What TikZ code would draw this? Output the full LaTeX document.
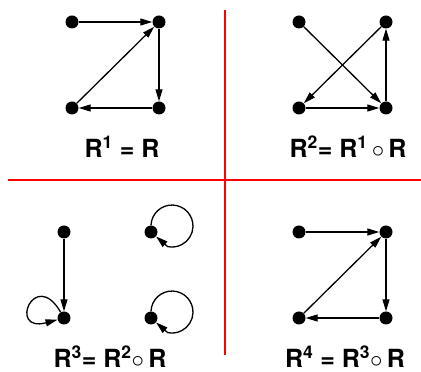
\documentclass[tikz,border=0pt]{standalone}
\usepackage{fontspec}
\setmainfont{TeX Gyre Heros}
\usetikzlibrary{arrows.meta, positioning}
\tikzset{
  dot/.style={circle, fill, inner sep=0pt, minimum size=13pt},
  rel/.style={-{Triangle[length=12pt, width=7pt]}, line width=1.3pt},
  lbl/.style={font=\fontsize{25}{30}\selectfont\bfseries},
  sep/.style={red, line width=1.6pt},
}
\newcommand{\pw}[1]{R\textsuperscript{#1}}

\begin{document}
\begin{tikzpicture}[x=1pt, y=1pt]
    \useasboundingbox (0,0) rectangle (421,372);

    % red separators
    \draw[sep] (8,192) -- (421,192);
    \draw[sep] (225,17) -- (225,362);

    % R^1
    \node[dot] (a1) at (72,350) {};
    \node[dot] (b1) at (159,350) {};
    \node[dot] (c1) at (72,264) {};
    \node[dot] (d1) at (159,264) {};
    \draw[rel] (a1) -- (b1);
    \draw[rel] (c1) -- (b1);
    \draw[rel] (b1) -- (d1);
    \draw[rel] (d1) -- (c1);
    \node[lbl] (l1) at (122,225) {\pw{1} = R};

    % R^2
    \node[dot] (a2) at (299,350) {};
    \node[dot] (b2) at (386,350) {};
    \node[dot] (c2) at (299,264) {};
    \node[dot] (d2) at (386,264) {};
    \draw[rel] (a2) -- (d2);
    \draw[rel] (b2) -- (c2);
    \draw[rel] (c2) -- (d2);
    \draw[rel] (d2) -- (b2);
    \node[lbl] (l2) at (348,225) {\pw{2}= \pw{1}\,$\circ$\,R};

    % R^3
    \node[dot] (a3) at (64,140) {};
    \node[dot] (b3) at (151,140) {};
    \node[dot] (c3) at (64,54) {};
    \node[dot] (d3) at (151,54) {};
    \draw[rel] (a3) -- (c3);
    \draw[rel] (b3.north) arc[start angle=178, end angle=-102, radius=21pt] -- (b3);
    \draw[rel] (c3) to[out=120, in=195, min distance=52pt] (c3);
    \draw[rel] (d3.north) arc[start angle=178, end angle=-102, radius=21pt] -- (d3);
    \node[lbl] (l3) at (110,15) {\pw{3}= \pw{2}$\circ$\,R};

    % R^4
    \node[dot] (a4) at (299,140) {};
    \node[dot] (b4) at (386,140) {};
    \node[dot] (c4) at (299,54) {};
    \node[dot] (d4) at (386,54) {};
    \draw[rel] (a4) -- (b4);
    \draw[rel] (c4) -- (b4);
    \draw[rel] (b4) -- (d4);
    \draw[rel] (d4) -- (c4);
    \node[lbl] (l4) at (345,15) {\pw{4} = \pw{3}$\circ$\,R};
\end{tikzpicture}
\end{document}
